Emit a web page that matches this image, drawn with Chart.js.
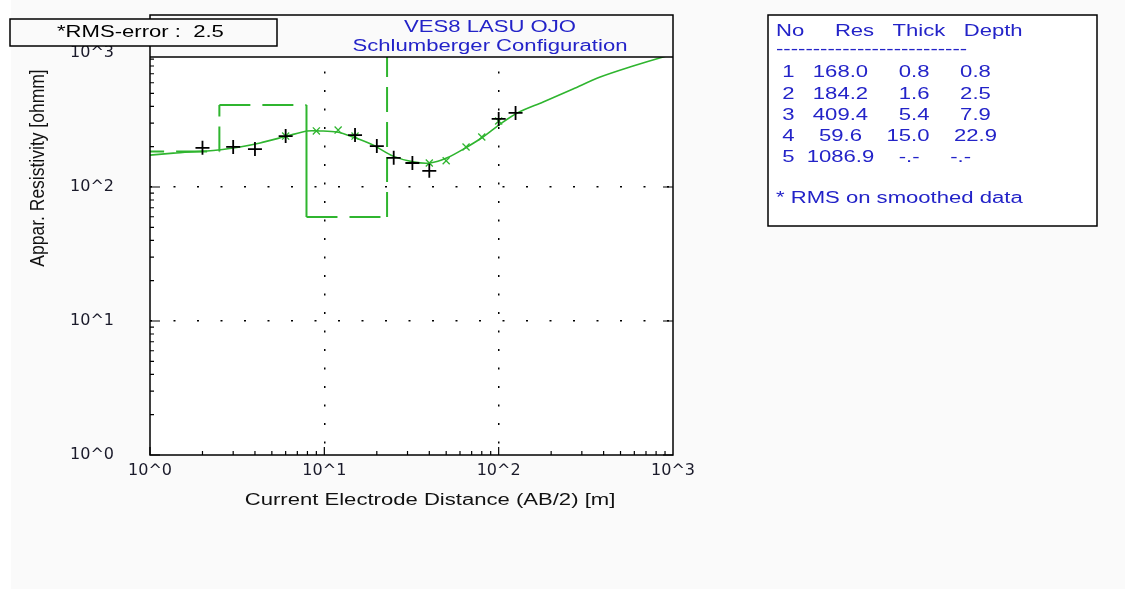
<!DOCTYPE html>
<html>
<head>
<meta charset="utf-8">
<title>VES8 LASU OJO</title>
<script src="https://cdn.jsdelivr.net/npm/chart.js@4.4.1/dist/chart.umd.min.js"></script>
<style>
  body { margin: 0; background: #fff; }
  #wrap { width: 1125px; height: 590px; }
</style>
</head>
<body>
<div id="wrap"><canvas id="vesChart" width="1125" height="590"></canvas></div>
<script>
// field data (AB/2 [m], apparent resistivity [ohmm])
const obsAB2 = [2, 3, 4, 6, 15, 20, 25, 32, 40, 100, 125];
const obsRho = [196, 199, 192, 240, 244, 202, 165, 151, 132, 322, 357];

// smoothed data (green x)
const smoAB2 = [6, 9, 12, 15, 40, 50, 65, 80, 100];
const smoRho = [240, 262, 266, 240, 151, 157, 199, 236, 311];

// calculated model curve
const curveAB2 = [1, 1.36, 2.46, 3.28, 4.28, 6.11, 7.96, 9.44, 11.8, 14.6, 19.0, 24.8, 32.3, 40.4, 50.6, 65.9, 81.3, 102, 128, 180, 267, 382, 590, 877, 1000];
const curveRho = [173, 179, 189, 199, 213, 240, 262, 262, 257, 236, 206, 170, 154, 151, 165, 199, 236, 295, 357, 431, 539, 662, 800, 935, 975];

// layer model
const layerNo = [1, 2, 3, 4, 5];
const layerRes = [168.0, 184.2, 409.4, 59.6, 1086.9];
const layerThick = [0.8, 1.6, 5.4, 15.0, null];
const layerDepth = [0.8, 2.5, 7.9, 22.9, null];

const decadeTicks = [1, 10, 100, 1000];
const rmsError = 2.5;

const GREEN = '#2fb52f';
const BLUE = '#2323c8';
const SX = 1.38; // the original text is wide
const FONT = '"Liberation Sans", Arial, sans-serif';

// step line of the layer model
const modelPts = [{ x: 0.5, y: layerRes[0] }];
layerRes.forEach((r, i) => {
  if (layerDepth[i] != null) {
    modelPts.push({ x: layerDepth[i], y: r });
    modelPts.push({ x: layerDepth[i], y: layerRes[i + 1] });
  } else {
    modelPts.push({ x: 5000, y: r });
  }
});

function fmt(v, w) {
  return (v == null ? '-.-' : v.toFixed(1)).padStart(w, ' ');
}

function wideText(ctx, str, x, y, color, align, size) {
  ctx.save();
  ctx.font = (size || 16) + 'px ' + FONT;
  ctx.fillStyle = color;
  ctx.textAlign = 'left';
  ctx.textBaseline = 'middle';
  let x0 = x;
  if (align === 'center') x0 = x - ctx.measureText(str).width * SX / 2;
  ctx.translate(x0, y);
  ctx.scale(SX, 1);
  ctx.fillText(str, 0, 0);
  ctx.restore();
}

const backgroundPlugin = {
  id: 'bg',
  beforeDraw(chart) {
    const ctx = chart.ctx;
    ctx.save();
    ctx.fillStyle = '#fff';
    ctx.fillRect(0, 0, chart.width, chart.height);
    ctx.fillStyle = '#fafafa';
    ctx.fillRect(11, 0, chart.width - 11, chart.height - 1);
    const a = chart.chartArea;
    ctx.fillStyle = '#fff';
    ctx.fillRect(a.left, a.top, a.right - a.left, a.bottom - a.top);
    ctx.restore();
  }
};

const framePlugin = {
  id: 'frame',
  afterDatasetsDraw(chart) {
    const ctx = chart.ctx;
    const xs = chart.scales.x, ys = chart.scales.y;
    const a = chart.chartArea;
    const frameTop = 57, headTop = 15;

    ctx.save();
    // header box hides the curve above the frame
    ctx.fillStyle = '#fafafa';
    ctx.fillRect(a.left, headTop, a.right - a.left, frameTop - headTop);

    ctx.strokeStyle = '#000';
    ctx.lineWidth = 1.5;
    ctx.strokeRect(a.left, headTop, a.right - a.left, a.bottom - headTop);
    ctx.beginPath();
    ctx.moveTo(a.left, frameTop);
    ctx.lineTo(a.right, frameTop);
    ctx.stroke();

    // inward tick marks
    ctx.lineWidth = 1.2;
    ctx.beginPath();
    [1, 10, 100].forEach(d => {
      for (let m = 1; m <= 9; m++) {
        const v = m * d;
        const len = m === 1 ? 10 : 4;
        const px = xs.getPixelForValue(v);
        ctx.moveTo(px, a.bottom);
        ctx.lineTo(px, a.bottom - (m === 1 ? 8 : 4));
        const py = ys.getPixelForValue(v);
        if (py > frameTop) {
          ctx.moveTo(a.left, py);
          ctx.lineTo(a.left + len, py);
          if (m === 1) {
            ctx.moveTo(a.right, py);
            ctx.lineTo(a.right - len, py);
          }
        }
      }
    });
    ctx.stroke();
    ctx.restore();

    // title
    wideText(ctx, 'VES8 LASU OJO', 490, 28, BLUE, 'center');
    wideText(ctx, 'Schlumberger Configuration', 490, 47, BLUE, 'center');

    // rms box
    ctx.save();
    ctx.fillStyle = '#fafafa';
    ctx.fillRect(10, 19, 267, 27);
    ctx.strokeStyle = '#000';
    ctx.lineWidth = 1.5;
    ctx.strokeRect(10, 19, 267, 27);
    ctx.restore();
    wideText(ctx, '*RMS-error :  ' + rmsError.toFixed(1), 57, 33, '#000');

    // axis titles
    wideText(ctx, 'Current Electrode Distance (AB/2) [m]', 430, 501, '#111', 'center');
    ctx.save();
    ctx.translate(38, 168);
    ctx.scale(1.2, 1);
    ctx.rotate(-Math.PI / 2);
    ctx.font = '17.5px ' + FONT;
    ctx.fillStyle = '#111';
    ctx.textAlign = 'center';
    ctx.textBaseline = 'middle';
    ctx.fillText('Appar. Resistivity [ohmm]', 0, 0);
    ctx.restore();

    // layer table
    ctx.save();
    ctx.fillStyle = '#fff';
    ctx.fillRect(768, 15, 329, 211);
    ctx.strokeStyle = '#000';
    ctx.lineWidth = 1.5;
    ctx.strokeRect(768, 15, 329, 211);
    ctx.restore();
    wideText(ctx, 'No     Res   Thick   Depth', 776, 31.5, BLUE);
    wideText(ctx, '--------------------------', 776, 50, BLUE);
    layerNo.forEach((n, i) => {
      const row = ' ' + n + fmt(layerRes[i], 8) + fmt(layerThick[i], layerThick[i] == null ? 7 : 8) + fmt(layerDepth[i], 8);
      wideText(ctx, row, 776, 73 + i * 21.2, BLUE);
    });
    wideText(ctx, '* RMS on smoothed data', 776, 199, BLUE);
  }
};

const tickLabel = v => '10^' + Math.round(Math.log10(v));

new Chart(document.getElementById('vesChart').getContext('2d'), {
  type: 'scatter',
  data: {
    datasets: [
      {
        label: 'Field data',
        data: obsAB2.map((x, i) => ({ x: x, y: obsRho[i] })),
        pointStyle: 'cross',
        pointRadius: 7,
        borderColor: '#000',
        borderWidth: 1.8
      },
      {
        label: 'Smoothed data',
        data: smoAB2.map((x, i) => ({ x: x, y: smoRho[i] })),
        pointStyle: 'crossRot',
        pointRadius: 5,
        borderColor: GREEN,
        borderWidth: 1.3
      },
      {
        label: 'Calculated',
        data: curveAB2.map((x, i) => ({ x: x, y: curveRho[i] })),
        showLine: true,
        pointRadius: 0,
        borderColor: GREEN,
        borderWidth: 1.6,
        tension: 0.3
      },
      {
        label: 'Model',
        data: modelPts,
        showLine: true,
        pointRadius: 0,
        borderColor: GREEN,
        borderWidth: 2,
        segment: {
          borderDash: c => c.p0.parsed.x === c.p1.parsed.x ? [25, 10] : [31, 12]
        }
      }
    ]
  },
  options: {
    responsive: false,
    animation: false,
    layout: { padding: { left: 10, top: 53, right: 452, bottom: 75 } },
    plugins: { legend: { display: false }, tooltip: { enabled: false } },
    scales: {
      x: {
        type: 'logarithmic',
        min: 1,
        max: 1000,
        afterBuildTicks: s => { s.ticks = decadeTicks.map(v => ({ value: v })); },
        afterFit: s => { s.height = 60; },
        grid: {
          color: c => (c.tick && (c.tick.value === 10 || c.tick.value === 100)) ? '#000' : 'rgba(0,0,0,0)',
          lineWidth: 1.5,
          drawTicks: false
        },
        border: { display: false, dash: [2, 16.5] },
        ticks: {
          autoSkip: false,
          maxRotation: 0,
          padding: 6,
          color: '#1a1a2a',
          font: { family: 'DejaVu Sans', size: 16 },
          callback: tickLabel
        }
      },
      y: {
        type: 'logarithmic',
        min: 1,
        max: 1000,
        afterBuildTicks: s => { s.ticks = decadeTicks.map(v => ({ value: v })); },
        afterFit: s => { s.width = 140; },
        grid: {
          color: c => (c.tick && (c.tick.value === 10 || c.tick.value === 100)) ? '#000' : 'rgba(0,0,0,0)',
          lineWidth: 1.5,
          drawTicks: false
        },
        border: { display: false, dash: [2, 21.5] },
        ticks: {
          autoSkip: false,
          padding: 36,
          color: '#1a1a2a',
          font: { family: 'DejaVu Sans', size: 16 },
          callback: tickLabel
        }
      }
    }
  },
  plugins: [backgroundPlugin, framePlugin]
});
</script>
</body>
</html>
